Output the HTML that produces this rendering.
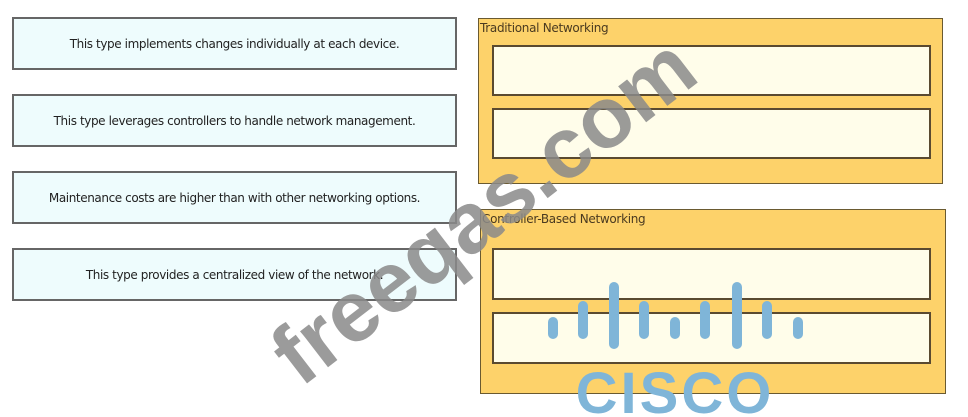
<!DOCTYPE html>
<html><head><style>
body{margin:0;width:968px;height:417px;background:#fff;position:relative;overflow:hidden;font-family:"DejaVu Sans","Liberation Sans",sans-serif;}
.l{position:absolute;left:12px;width:445px;height:53px;background:#eefcfd;border:2px solid #666;box-sizing:border-box;font-size:12px;color:#222;display:flex;align-items:center;justify-content:center;white-space:nowrap;letter-spacing:-0.4px}
.o{position:absolute;background:#fdd26a;border:1.5px solid #6a5a30;box-sizing:border-box}
.o span{position:absolute;left:1px;top:2px;font-size:12px;color:#4a3a20;letter-spacing:-0.3px}
.i{position:absolute;left:492px;width:439px;background:#fffdea;border:2px solid #5a4a30;box-sizing:border-box}
</style></head><body>
<div class="l" style="top:17px">This type implements changes individually at each device.</div>
<div class="l" style="top:94px">This type leverages controllers to handle network management.</div>
<div class="l" style="top:171px">Maintenance costs are higher than with other networking options.</div>
<div class="l" style="top:248px">This type provides a centralized view of the network.</div>
<div class="o" style="left:478px;top:18px;width:465px;height:166px"><span>Traditional Networking</span></div>
<div class="i" style="top:45px;height:51px"></div>
<div class="i" style="top:108px;height:51px"></div>
<div class="o" style="left:480px;top:209px;width:466px;height:185px"><span>Controller-Based Networking</span></div>
<div class="i" style="top:248px;height:52px"></div>
<div class="i" style="top:312px;height:52px"></div>
<svg style="position:absolute;left:0;top:0" width="968" height="417">
<g stroke="#7fb5d8" stroke-width="10" stroke-linecap="round">
<line x1="553" y1="322" x2="553" y2="334"/><line x1="583" y1="306" x2="583" y2="334"/><line x1="614" y1="287" x2="614" y2="344"/><line x1="644" y1="306" x2="644" y2="334"/><line x1="675" y1="322" x2="675" y2="334"/><line x1="705" y1="306" x2="705" y2="334"/><line x1="737" y1="287" x2="737" y2="344"/><line x1="767" y1="306" x2="767" y2="334"/><line x1="798" y1="322" x2="798" y2="334"/>
</g>
<text x="675" y="413" text-anchor="middle" font-family="Liberation Sans,sans-serif" font-weight="bold" font-size="58" fill="#7fb5d8" letter-spacing="3">CISCO</text>
<text x="483" y="240" text-anchor="middle" transform="rotate(-37.6 483 210)" font-family="Liberation Sans,sans-serif" font-weight="bold" font-size="86" fill="#8a8a8a" fill-opacity="0.85">freeqas.com</text>
</svg>
</body></html>
